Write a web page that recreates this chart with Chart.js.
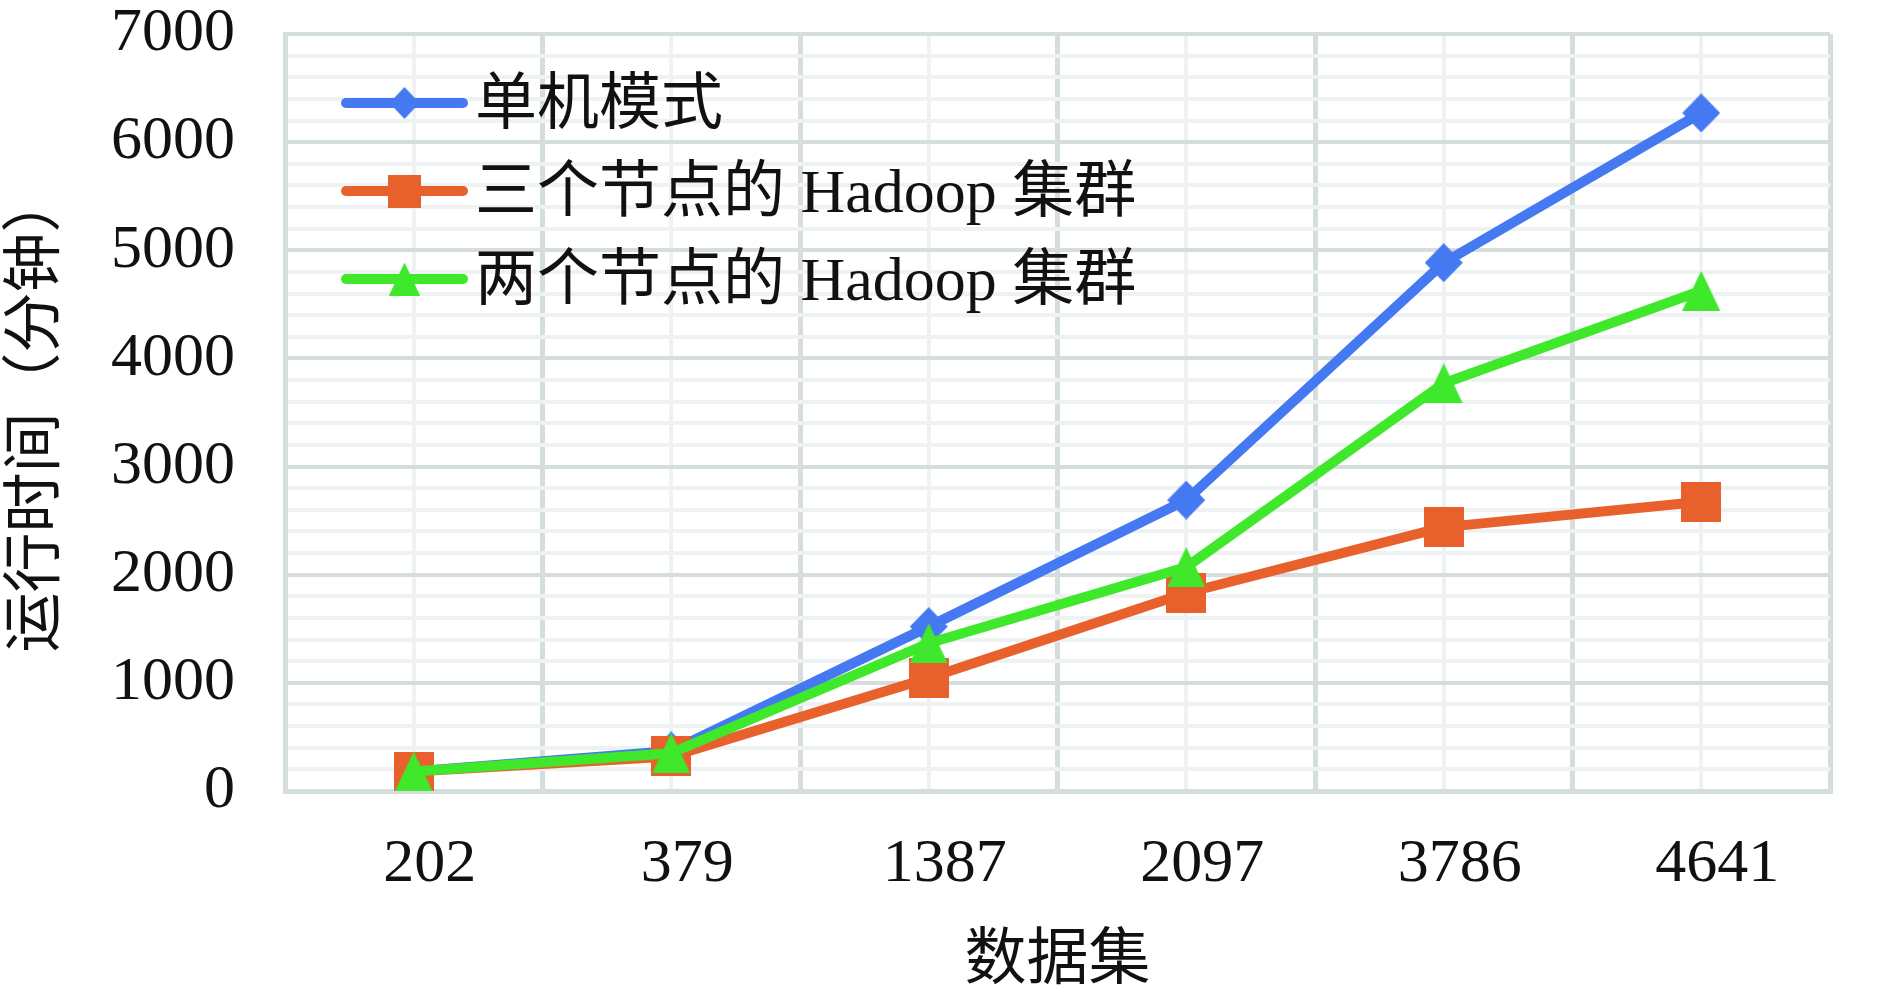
<!DOCTYPE html>
<html>
<head>
<meta charset="utf-8">
<script src="https://cdn.jsdelivr.net/npm/chart.js@4"></script>
<style>
  html, body { margin: 0; padding: 0; background: #ffffff; }
  #wrap { width: 1890px; height: 998px; position: relative; }
</style>
</head>
<body>
<div id="wrap"><canvas id="c"></canvas></div>
<script>
// ---- data ----
const categories = ['202', '379', '1387', '2097', '3786', '4641'];
const seriesNames = ['单机模式', '三个节点的 Hadoop 集群', '两个节点的 Hadoop 集群'];
const standalone = [180, 370, 1520, 2690, 4885, 6270];
const threeNode  = [180, 320, 1045, 1831, 2440, 2675];
const twoNode    = [180, 350, 1366, 2070, 3770, 4626];
const yTickLabels = ['0', '1000', '2000', '3000', '4000', '5000', '6000', '7000'];
const xTitle = '数据集';
const yTitle = '运行时间（分钟）';

// ---- styles ----
const BLUE = '#4479F2', ORANGE = '#E8612D', GREEN = '#3FE82A';
const FONT = "'Liberation Serif', 'Times New Roman', 'Noto Sans CJK SC', serif";
const MAJOR = '#d5dddd', MINOR = '#eef2f3';
const CLEAR = 'rgba(0,0,0,0)';

function makeMarker(shape, color, w, h) {
  const c = document.createElement('canvas');
  c.width = w; c.height = h;
  const g = c.getContext('2d');
  g.fillStyle = color;
  g.beginPath();
  if (shape === 'diamond') {
    g.moveTo(w / 2, 0); g.lineTo(w, h / 2); g.lineTo(w / 2, h); g.lineTo(0, h / 2);
  } else if (shape === 'triangle') {
    g.moveTo(w / 2, 0); g.lineTo(w, h); g.lineTo(0, h);
  } else {
    g.rect(0, 0, w, h);
  }
  g.closePath();
  g.fill();
  return c;
}
const markers = [
  makeMarker('diamond', BLUE, 38, 39),
  makeMarker('square', ORANGE, 40, 40),
  makeMarker('triangle', GREEN, 38, 40)
];
const legendMarkers = [
  makeMarker('diamond', BLUE, 30, 32),
  makeMarker('square', ORANGE, 33, 33),
  makeMarker('triangle', GREEN, 31, 33)
];

const legendPlugin = {
  id: 'insideLegend',
  afterDraw(chart) {
    const ctx = chart.ctx;
    const a = chart.chartArea;
    const x0 = a.left + 61, x1 = a.left + 178, xm = (x0 + x1) / 2;
    const tx = a.left + 190;
    const rowY = [a.top + 69, a.top + 157, a.top + 245];
    ctx.save();
    chart.data.datasets.forEach((ds, i) => {
      const y = rowY[i];
      ctx.strokeStyle = ds.borderColor;
      ctx.lineWidth = 10;
      ctx.lineCap = 'round';
      ctx.beginPath(); ctx.moveTo(x0, y); ctx.lineTo(x1, y); ctx.stroke();
      const m = legendMarkers[i];
      ctx.drawImage(m, xm - m.width / 2, y - m.height / 2);
      ctx.fillStyle = '#111';
      ctx.font = "62px " + FONT;
      ctx.textBaseline = 'middle';
      ctx.textAlign = 'left';
      ctx.fillText(ds.label, tx, y + 5);
    });
    ctx.restore();
  }
};

const seriesData = [standalone, threeNode, twoNode];
const colors = [BLUE, ORANGE, GREEN];

new Chart(document.getElementById('c'), {
  type: 'line',
  data: {
    labels: categories,
    datasets: seriesData.map((d, i) => ({
      label: seriesNames[i],
      data: d,
      borderColor: colors[i],
      backgroundColor: colors[i],
      borderWidth: 10,
      borderJoinStyle: 'round',
      borderCapStyle: 'round',
      tension: 0,
      fill: false,
      pointStyle: markers[i],
      pointRadius: 20,
      pointHoverRadius: 20,
      order: 2 - i
    }))
  },
  options: {
    responsive: true,
    maintainAspectRatio: false,
    animation: false,
    events: [],
    layout: { padding: { left: 4, top: 33, right: 60, bottom: 4 } },
    plugins: { legend: { display: false }, tooltip: { enabled: false } },
    scales: {
      x: {
        type: 'category',
        offset: true,
        position: 'bottom',
        grid: { offset: true, color: MAJOR, lineWidth: 5, drawTicks: true, tickLength: 40, tickColor: CLEAR },
        border: { display: true, color: MAJOR, width: 5 },
        ticks: {
          color: '#111',
          font: { family: FONT, size: 62, lineHeight: 1 },
          padding: 3,
          labelOffset: 16,
          maxRotation: 0,
          autoSkip: false
        },
        title: {
          display: true, text: xTitle, color: '#111',
          font: { family: FONT, size: 62, lineHeight: 1 },
          padding: { top: 33, bottom: 0 }
        }
      },
      x2: {
        type: 'category',
        offset: true,
        position: 'bottom',
        grid: { offset: false, color: MINOR, lineWidth: 4, drawTicks: false, z: -1 },
        border: { display: false },
        ticks: { display: false }
      },
      y: {
        type: 'linear',
        min: 0,
        max: 7000,
        position: 'left',
        grid: {
          drawTicks: true,
          tickLength: 47,
          tickColor: CLEAR,
          color: (c) => (c.tick && c.tick.value % 1000 === 0) ? MAJOR : MINOR,
          lineWidth: 4
        },
        border: { display: true, color: MAJOR, width: 5 },
        ticks: {
          stepSize: 200,
          maxTicksLimit: 100,
          autoSkip: false,
          color: '#111',
          font: { family: FONT, size: 62, lineHeight: 1 },
          padding: 3,
          callback: (v) => (v % 1000 === 0) ? yTickLabels[v / 1000] : ''
        },
        title: {
          display: true, text: yTitle, color: '#111',
          font: { family: FONT, size: 60, lineHeight: 1 },
          padding: { top: 4, bottom: 40 }
        }
      }
    }
  },
  plugins: [legendPlugin]
});
</script>
</body>
</html>
